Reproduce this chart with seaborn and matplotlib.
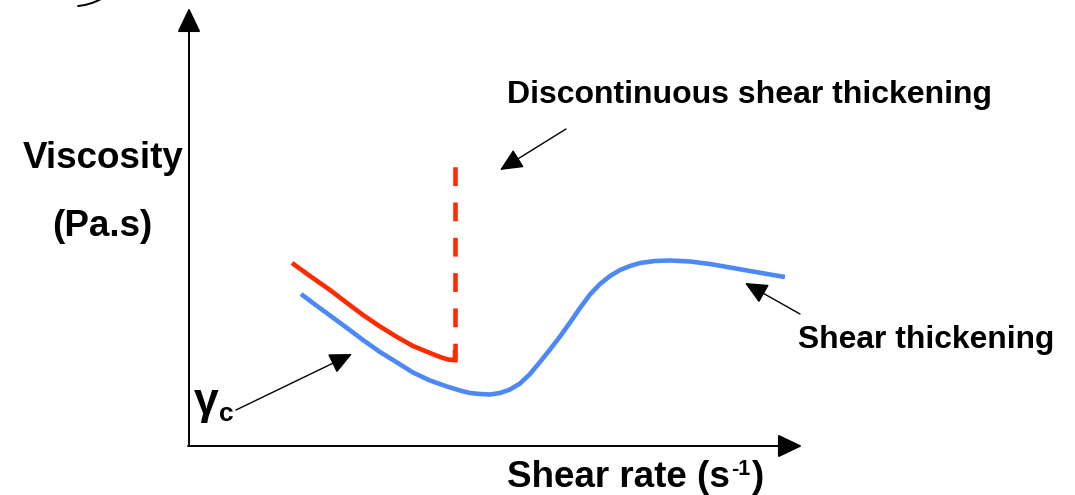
import matplotlib
matplotlib.use("Agg")
import matplotlib.pyplot as plt
import numpy as np
import pandas as pd
import seaborn as sns

# schematic curves, in picture units (x right, y down)
red_x = [292, 310, 330, 347, 363, 380, 397, 413, 430, 440, 448, 453, 455, 455]
red_y = [263, 276, 290, 303, 315, 326.5, 337, 346, 353, 357, 359.5, 360, 358, 350]

dst_x = [455, 455]
dst_y = [362, 163]

blue_x = [301, 315, 330, 347, 363, 380, 397, 413, 430, 447, 460, 470, 480, 490,
          500, 510, 520, 530, 540, 550, 560, 570, 580, 590, 600, 610, 620, 630,
          640, 655, 670, 690, 710, 730, 750, 770, 785]
blue_y = [294, 304.5, 315.5, 328, 340, 352, 362.5, 372.5, 380.5, 386.5, 390.5,
          393, 394, 394.5, 393, 389.5, 383.5, 374, 362, 349.5, 336.5, 322.5, 308,
          294.5, 284, 276, 270, 266, 263, 261, 260.5, 261.5, 264, 267.5, 271,
          274.5, 277]

# little cut-off arc in the top-left corner
arc_x = [78, 85, 92, 97, 101]
arc_y = [6, 5, 3, 1, -1]

red = "#ff2a00"
blue = "#4d88f7"

sns.set_theme(style="white")
plt.rcParams["font.family"] = ["Liberation Sans", "DejaVu Sans"]

fig = plt.figure(figsize=(10.75, 4.95), dpi=100)
ax = fig.add_axes([0, 0, 1, 1])

sns.lineplot(x=red_x, y=red_y, sort=False, estimator=None, color=red,
             lw=3.3, ax=ax, solid_capstyle="butt", solid_joinstyle="round")
sns.lineplot(x=dst_x, y=dst_y, sort=False, estimator=None, color=red,
             lw=3.3, ax=ax, linestyle=(0, (4.1, 3.6)), dash_capstyle="butt")
sns.lineplot(x=blue_x, y=blue_y, sort=False, estimator=None, color=blue,
             lw=3.3, ax=ax, solid_capstyle="butt", solid_joinstyle="round")
sns.lineplot(x=arc_x, y=arc_y, sort=False, estimator=None, color="black",
             lw=1.4, ax=ax)

ax.set_xlim(0, 1075)
ax.set_ylim(495, 0)
ax.axis("off")

# axes with arrow heads
axis_arrow = dict(arrowstyle="-|>,head_length=15,head_width=7.2",
                  mutation_scale=1, color="black", lw=1.4,
                  shrinkA=0, shrinkB=0)
ax.annotate("", xy=(189, 8), xytext=(189, 446), arrowprops=axis_arrow)
ax.annotate("", xy=(802, 446), xytext=(188, 446), arrowprops=axis_arrow)

# pointer arrows
ptr = dict(arrowstyle="-|>,head_length=14,head_width=6.5",
           mutation_scale=1, color="black", lw=1.0,
           shrinkA=0, shrinkB=0)
ax.annotate("", xy=(352, 354), xytext=(236, 410), arrowprops=ptr)
ax.annotate("", xy=(500, 170), xytext=(566, 129), arrowprops=ptr)
ax.annotate("", xy=(745, 283), xytext=(800, 314), arrowprops=ptr)

bold = dict(fontweight="bold", color="black", va="baseline")
ax.text(23, 168, "Viscosity", fontsize=26.5, ha="left", **bold)
ax.text(102.5, 236, "(Pa.s)", fontsize=26.5, ha="center", **bold)
ax.text(507, 103, "Discontinuous shear thickening", fontsize=23, ha="left", **bold)
ax.text(798, 348, "Shear thickening", fontsize=22.9, ha="left", **bold)
ax.text(194, 414, "γ", fontsize=32, ha="left", **bold)
ax.text(219, 421, "c", fontsize=19, ha="left", **bold)

# x label with a small superscript, pieced together
inv = ax.transData.inverted()
t1 = ax.text(507, 487, "Shear rate (s", fontsize=26.5, ha="left", **bold)
fig.canvas.draw()
x_end = inv.transform(t1.get_window_extent().get_points())[1][0]
t2 = ax.text(x_end + 1, 475, "-1", fontsize=15.5, ha="left", **bold)
fig.canvas.draw()
x_end = inv.transform(t2.get_window_extent().get_points())[1][0]
ax.text(x_end + 1, 487, ")", fontsize=26.5, ha="left", **bold)

fig.savefig("out.png", dpi=100)
